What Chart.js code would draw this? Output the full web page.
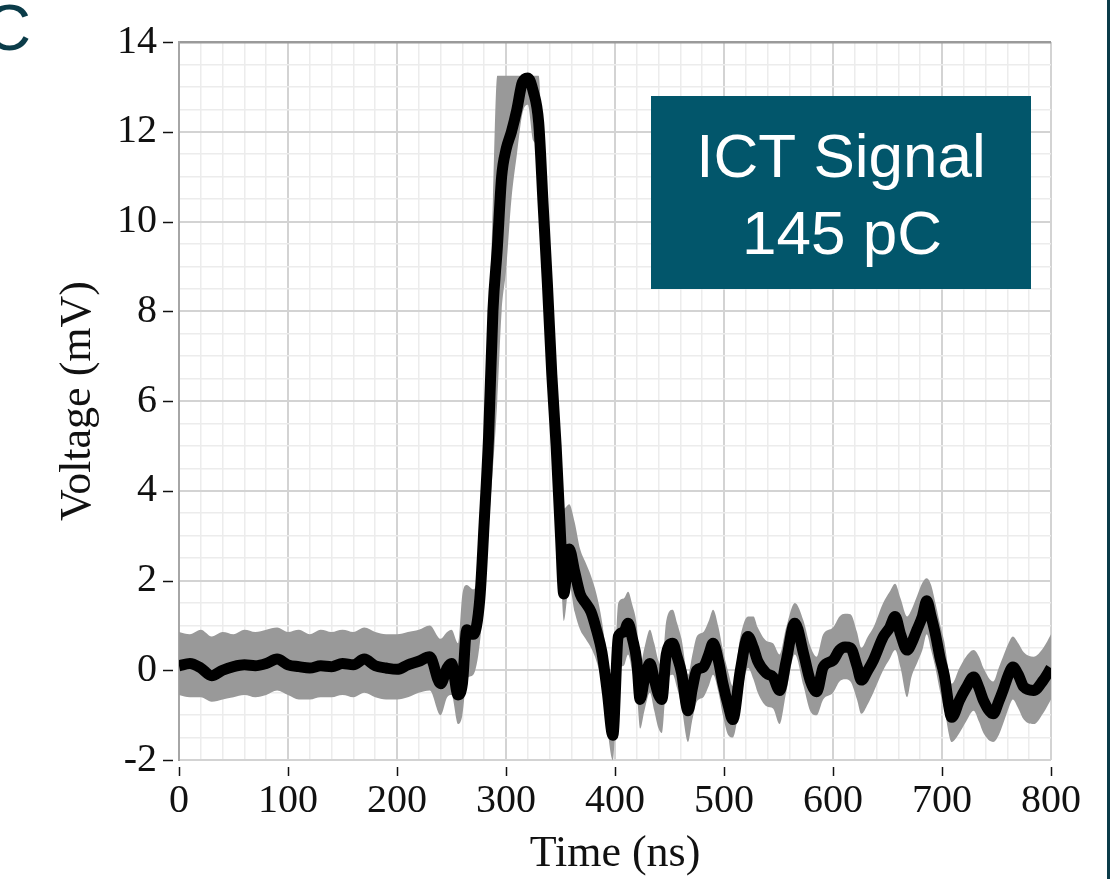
<!DOCTYPE html>
<html>
<head>
<meta charset="utf-8">
<title>ICT Signal</title>
<script src="https://cdn.jsdelivr.net/npm/chart.js@4"></script>
<style>
    html, body { margin: 0; padding: 0; background: #fff; }
    #wrap { width: 1116px; height: 879px; }
</style>
</head>
<body>
<div id="wrap"><canvas id="ictChart" width="1116" height="879"></canvas></div>
<script>
// 1. Data (time in ns, voltage in mV)
const timeNs = [
    0, 10, 20, 30, 40, 50, 60, 70, 80, 90,
    100, 110, 120, 130, 140, 150, 160, 170, 180, 190,
    200, 210, 220, 230, 240, 246, 250, 256, 260, 264,
    270, 276, 280, 284, 288, 292, 296, 300, 305, 310,
    315, 320, 325, 330, 334, 338, 342, 346, 350, 353,
    358, 363, 368, 373, 378, 383, 388, 393, 398, 403,
    408, 412, 416, 420, 423, 427, 432, 436, 440, 443,
    447, 453, 457, 461, 467, 471, 475, 481, 486, 490,
    495, 499, 504, 508, 515, 522, 527, 531, 539, 545,
    551, 557, 565, 573, 579, 585, 591, 600, 606, 611,
    616, 622, 626, 632, 637, 646, 652, 657, 662, 668,
    672, 677, 682, 686, 690, 694, 698, 702, 709, 716,
    722, 729, 734, 738, 747, 752, 756, 761, 765, 770,
    775, 784, 793, 800
];

// mean signal (black line)
const signalMv = [
    0.10, 0.15, 0.05, -0.12, 0.00, 0.08, 0.12, 0.10, 0.15, 0.25,
    0.12, 0.08, 0.05, 0.10, 0.08, 0.15, 0.12, 0.25, 0.10, 0.05,
    0.02, 0.12, 0.20, 0.30, -0.30, 0.05, 0.15, -0.55, -0.30, 0.90,
    0.80, 1.60, 3.30, 5.20, 8.00, 9.40, 11.00, 11.60, 12.00, 12.50,
    13.10, 13.20, 12.90, 12.20, 10.40, 8.60, 6.60, 5.00, 3.00, 1.70,
    2.70, 2.20, 1.70, 1.50, 1.30, 0.90, 0.40, -0.50, -1.45, 0.75,
    0.85, 1.05, 0.70, 0.20, -0.65, -0.20, 0.15, -0.20, -0.55, -0.65,
    0.35, 0.60, 0.30, -0.05, -0.90, -0.40, 0.00, 0.07, 0.35, 0.60,
    0.20, -0.30, -0.80, -1.10, 0.00, 0.75, 0.50, 0.20, -0.07, -0.15,
    -0.45, 0.20, 1.05, 0.37, -0.22, -0.48, 0.07, 0.22, 0.45, 0.52,
    0.50, 0.10, -0.22, 0.00, 0.22, 0.74, 0.95, 1.20, 0.80, 0.45,
    0.60, 0.90, 1.20, 1.55, 1.20, 0.80, 0.30, -0.10, -1.05, -0.67,
    -0.40, -0.15, -0.40, -0.67, -0.97, -0.70, -0.45, -0.10, 0.07, -0.10,
    -0.37, -0.45, -0.22, 0.05
];

// upper edge of the grey spread
const bandHighMv = [
    0.85, 0.80, 0.90, 0.75, 0.85, 0.80, 0.90, 0.85, 0.90, 0.95,
    0.85, 0.90, 0.80, 0.90, 0.85, 0.90, 0.85, 0.95, 0.85, 0.80,
    0.80, 0.85, 0.90, 1.00, 0.70, 0.85, 0.90, 0.60, 1.70, 1.90,
    1.80, 2.60, 5.00, 6.80, 10.50, 13.25, 13.25, 13.25, 13.25, 13.25,
    13.25, 13.25, 13.25, 13.25, 11.20, 9.20, 7.40, 6.00, 4.20, 3.60,
    3.70, 3.30, 2.70, 2.40, 2.10, 1.70, 1.10, 0.20, -0.60, 1.50,
    1.60, 1.75, 1.45, 1.00, 0.10, 0.50, 0.90, 0.60, 0.20, 0.10,
    1.10, 1.35, 1.05, 0.70, -0.10, 0.35, 0.75, 0.85, 1.10, 1.35,
    0.95, 0.45, -0.05, -0.35, 0.75, 1.20, 1.20, 0.95, 0.65, 0.60,
    0.35, 0.95, 1.50, 1.10, 0.55, 0.30, 0.80, 0.95, 1.20, 1.26,
    1.25, 0.85, 0.50, 0.75, 0.95, 1.50, 1.75, 1.93, 1.60, 1.20,
    1.35, 1.65, 1.95, 2.05, 1.90, 1.50, 1.05, 0.65, -0.30, 0.05,
    0.30, 0.45, 0.30, 0.05, -0.25, 0.05, 0.30, 0.60, 0.75, 0.60,
    0.40, 0.30, 0.50, 0.80
];

// lower edge of the grey spread
const bandLowMv = [
    -0.55, -0.60, -0.60, -0.70, -0.65, -0.60, -0.55, -0.60, -0.55, -0.45,
    -0.55, -0.65, -0.65, -0.60, -0.60, -0.55, -0.60, -0.50, -0.60, -0.65,
    -0.65, -0.60, -0.50, -0.45, -1.00, -0.60, -0.55, -1.20, -1.00, -0.20,
    -0.10, 0.60, 1.80, 3.20, 4.50, 6.00, 8.00, 8.90, 10.50, 11.50,
    12.40, 12.60, 11.80, 11.60, 10.00, 8.00, 6.20, 4.60, 2.40, 1.10,
    1.90, 1.30, 0.90, 0.70, 0.50, 0.20, -0.30, -1.30, -2.00, 0.00,
    0.10, 0.35, -0.05, -0.50, -1.30, -0.90, -0.50, -0.90, -1.30, -1.40,
    -0.35, -0.10, -0.40, -0.80, -1.60, -1.10, -0.70, -0.60, -0.35, -0.10,
    -0.50, -1.00, -1.45, -1.50, -0.70, 0.05, -0.20, -0.50, -0.80, -0.85,
    -1.20, -0.50, 0.35, -0.35, -0.90, -1.00, -0.65, -0.50, -0.25, -0.20,
    -0.25, -0.65, -0.97, -0.75, -0.50, 0.00, 0.25, 0.45, 0.05, -0.60,
    -0.15, 0.15, 0.45, 0.80, 0.45, 0.05, -0.45, -0.85, -1.60, -1.40,
    -1.15, -0.90, -1.15, -1.40, -1.60, -1.45, -1.20, -0.85, -0.65, -0.85,
    -1.10, -1.20, -0.95, -0.65
];

// axis ticks
const xTicksNs = [0, 100, 200, 300, 400, 500, 600, 700, 800];
const yTicksMv = [-2, 0, 2, 4, 6, 8, 10, 12, 14];

const boxLines = ['ICT Signal', '145 pC'];
const panelLetter = 'C';

// 2. Colours
const colorTeal = '#02566b';
const colorDark = '#0b3c49';
const gridMajor = '#d3d3d3';
const gridMinor = '#ececec';

const toPoints = (vals) => timeNs.map((t, i) => ({ x: t, y: vals[i] }));

// 3. Extra drawing: tick marks, label box, panel letter, frame line
const decorPlugin = {
    id: 'decor',
    afterDraw(chart) {
        const { ctx, chartArea, scales } = chart;
        ctx.save();

        // tick marks (sit a little off the axis like the original)
        ctx.strokeStyle = '#111';
        ctx.lineWidth = 1.5;
        yTicksMv.forEach(v => {
            const y = Math.round(scales.y.getPixelForValue(v)) + 0.5;
            ctx.beginPath();
            ctx.moveTo(chartArea.left - 16, y);
            ctx.lineTo(chartArea.left - 6, y);
            ctx.stroke();
        });
        xTicksNs.forEach(t => {
            const x = Math.round(scales.x.getPixelForValue(t)) + 0.5;
            ctx.beginPath();
            ctx.moveTo(x, chartArea.bottom + 7);
            ctx.lineTo(x, chartArea.bottom + 16);
            ctx.stroke();
        });

        // label box
        ctx.fillStyle = colorTeal;
        ctx.fillRect(651, 96, 380, 193);
        ctx.fillStyle = '#ffffff';
        ctx.font = '62px "Liberation Sans", Arial, sans-serif';
        ctx.textAlign = 'center';
        ctx.textBaseline = 'alphabetic';
        ctx.fillText(boxLines[0], 841, 177);
        ctx.fillText(boxLines[1], 842, 254);

        // panel letter, cut off at the left edge
        ctx.fillStyle = colorDark;
        ctx.font = '64px "Liberation Sans", Arial, sans-serif';
        ctx.textAlign = 'right';
        ctx.fillText(panelLetter, 31, 50);

        // frame line on the right
        ctx.fillRect(1107, 0, 3, chart.height);

        ctx.restore();
    }
};

// 4. Chart
Chart.defaults.font.family = '"Liberation Serif", "Times New Roman", serif';
Chart.defaults.color = '#111';

const ctxIct = document.getElementById('ictChart').getContext('2d');
new Chart(ctxIct, {
    type: 'line',
    data: {
        datasets: [
            {
                label: 'Signal',
                data: toPoints(signalMv),
                borderColor: '#000000',
                borderWidth: 11,
                borderJoinStyle: 'round',
                pointRadius: 0,
                cubicInterpolationMode: 'monotone',
                fill: false,
                order: 0
            },
            {
                label: 'High',
                data: toPoints(bandHighMv),
                borderColor: 'rgba(0,0,0,0)',
                borderWidth: 0,
                backgroundColor: '#999999',
                pointRadius: 0,
                cubicInterpolationMode: 'monotone',
                fill: '+1',
                order: 1
            },
            {
                label: 'Low',
                data: toPoints(bandLowMv),
                borderColor: 'rgba(0,0,0,0)',
                borderWidth: 0,
                pointRadius: 0,
                cubicInterpolationMode: 'monotone',
                fill: false,
                order: 2
            }
        ]
    },
    options: {
        responsive: false,
        animation: false,
        layout: { padding: { top: 42, right: 65, bottom: 0, left: 0 } },
        plugins: {
            legend: { display: false },
            tooltip: { enabled: false }
        },
        scales: {
            x: {
                type: 'linear',
                min: 0,
                max: 800,
                afterFit: (scale) => { scale.height = 119; },
                ticks: {
                    stepSize: 20,
                    autoSkip: false,
                    maxRotation: 0,
                    padding: 17,
                    font: { size: 40 },
                    callback: (v) => (v % 100 === 0 ? String(v) : '')
                },
                grid: {
                    drawTicks: false,
                    color: (c) => (c.tick && c.tick.value % 100 === 0 ? gridMajor : gridMinor),
                    lineWidth: (c) => (c.tick && c.tick.value % 100 === 0 ? 2 : 1.5)
                },
                border: { display: false },
                title: {
                    display: true,
                    text: 'Time (ns)',
                    font: { size: 44 },
                    padding: { top: 0, bottom: -2 }
                }
            },
            y: {
                min: -2,
                max: 14,
                afterFit: (scale) => {
                    scale.width = 179;
                    // keep the plot top fixed, labels may overhang
                    scale.paddingTop = 0;
                    scale.paddingBottom = 0;
                },
                ticks: {
                    stepSize: 0.5,
                    autoSkip: false,
                    padding: 22,
                    font: { size: 40 },
                    callback: (v) => (Number.isInteger(v / 2) ? String(v) : '')
                },
                grid: {
                    drawTicks: false,
                    color: (c) => {
                        if (!c.tick) return gridMinor;
                        if (c.tick.value === 14) return '#9a9a9a';
                        return Number.isInteger(c.tick.value / 2) ? gridMajor : gridMinor;
                    },
                    lineWidth: (c) => {
                        if (!c.tick) return 1.5;
                        if (c.tick.value === 14) return 2.5;
                        return Number.isInteger(c.tick.value / 2) ? 2 : 1.5;
                    }
                },
                border: { display: true, color: '#a6a6a6', width: 2 },
                title: {
                    display: true,
                    text: 'Voltage (mV)',
                    font: { size: 44 },
                    padding: { top: 52, bottom: 0 }
                }
            }
        }
    },
    plugins: [decorPlugin]
});
</script>
</body>
</html>
